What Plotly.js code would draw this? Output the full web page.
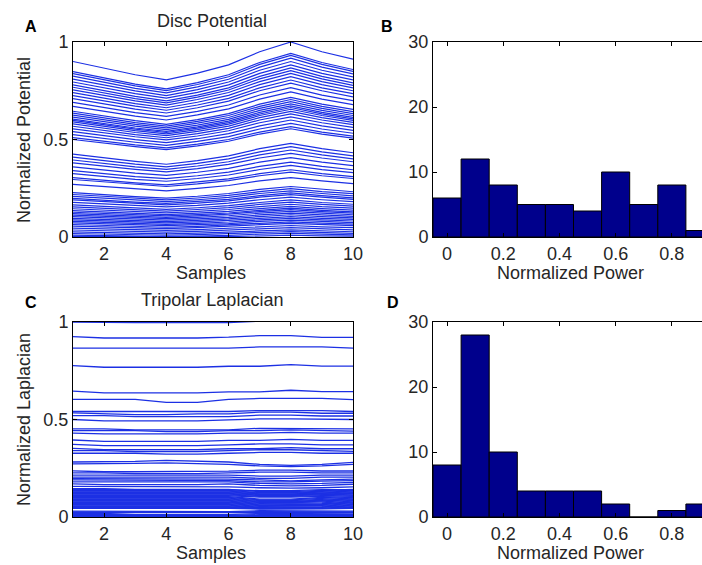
<!DOCTYPE html>
<html>
<head>
<meta charset="utf-8">
<script src="https://cdn.plot.ly/plotly-3.0.1.min.js"></script>
<style>
html,body{margin:0;padding:0;overflow:hidden;background:#fff;}
#chart{width:730px;height:565px;}
</style>
</head>
<body>
<div id="chart"></div>
<script>
// ---------------- DATA ----------------
const samples = [1,2,3,4,5,6,7,8,9,10];

// Panel A: normalized disc potential, 64 channels x 10 samples
const discPotential = [
[0.900,0.866,0.832,0.806,0.840,0.883,0.950,1.000,0.950,0.912],
[0.848,0.816,0.784,0.760,0.792,0.832,0.895,0.942,0.895,0.859],
[0.838,0.806,0.775,0.751,0.782,0.822,0.885,0.931,0.885,0.849],
[0.825,0.794,0.762,0.739,0.770,0.809,0.871,0.917,0.871,0.836],
[0.810,0.779,0.749,0.725,0.756,0.795,0.855,0.900,0.855,0.821],
[0.795,0.765,0.735,0.712,0.742,0.780,0.839,0.883,0.839,0.806],
[0.780,0.750,0.721,0.698,0.728,0.765,0.824,0.867,0.824,0.790],
[0.768,0.739,0.710,0.688,0.717,0.754,0.811,0.853,0.811,0.778],
[0.755,0.726,0.698,0.676,0.705,0.741,0.797,0.839,0.797,0.765],
[0.740,0.712,0.684,0.663,0.691,0.726,0.781,0.822,0.781,0.750],
[0.725,0.698,0.671,0.650,0.677,0.711,0.765,0.805,0.765,0.735],
[0.710,0.683,0.656,0.636,0.663,0.697,0.750,0.789,0.750,0.719],
[0.690,0.664,0.638,0.619,0.644,0.677,0.728,0.766,0.728,0.699],
[0.670,0.645,0.620,0.600,0.626,0.657,0.707,0.744,0.707,0.679],
[0.645,0.621,0.597,0.578,0.602,0.633,0.681,0.716,0.681,0.654],
[0.635,0.611,0.587,0.569,0.593,0.623,0.670,0.705,0.670,0.643],
[0.625,0.602,0.578,0.560,0.584,0.613,0.660,0.694,0.660,0.633],
[0.615,0.592,0.569,0.551,0.574,0.603,0.649,0.683,0.649,0.623],
[0.605,0.582,0.559,0.542,0.565,0.594,0.639,0.672,0.639,0.613],
[0.598,0.576,0.553,0.536,0.558,0.587,0.631,0.664,0.631,0.606],
[0.590,0.568,0.546,0.529,0.551,0.579,0.623,0.655,0.623,0.598],
[0.580,0.558,0.536,0.520,0.542,0.569,0.612,0.644,0.612,0.588],
[0.568,0.547,0.525,0.509,0.530,0.557,0.600,0.631,0.600,0.576],
[0.555,0.534,0.514,0.498,0.518,0.545,0.586,0.616,0.586,0.562],
[0.540,0.520,0.499,0.484,0.504,0.530,0.570,0.600,0.570,0.547],
[0.525,0.505,0.486,0.470,0.490,0.515,0.554,0.583,0.554,0.532],
[0.510,0.491,0.472,0.457,0.476,0.500,0.538,0.566,0.538,0.517],
[0.500,0.481,0.463,0.448,0.467,0.491,0.528,0.555,0.528,0.507],
[0.425,0.406,0.388,0.373,0.392,0.416,0.453,0.480,0.453,0.432],
[0.410,0.392,0.374,0.360,0.378,0.401,0.437,0.463,0.437,0.416],
[0.395,0.378,0.360,0.347,0.364,0.386,0.421,0.446,0.421,0.401],
[0.380,0.363,0.347,0.334,0.351,0.372,0.405,0.429,0.405,0.386],
[0.360,0.344,0.328,0.316,0.332,0.352,0.384,0.407,0.384,0.366],
[0.340,0.325,0.310,0.299,0.314,0.333,0.362,0.384,0.362,0.345],
[0.325,0.311,0.296,0.286,0.300,0.318,0.346,0.367,0.346,0.330],
[0.305,0.291,0.278,0.267,0.281,0.298,0.325,0.345,0.325,0.310],
[0.295,0.282,0.269,0.259,0.272,0.289,0.314,0.333,0.314,0.300],
[0.270,0.258,0.246,0.237,0.249,0.264,0.288,0.305,0.288,0.274],
[0.228,0.217,0.207,0.199,0.209,0.223,0.244,0.259,0.244,0.232],
[0.218,0.208,0.198,0.190,0.200,0.213,0.233,0.248,0.233,0.222],
[0.208,0.198,0.188,0.181,0.191,0.203,0.223,0.237,0.223,0.211],
[0.198,0.188,0.179,0.172,0.181,0.193,0.212,0.226,0.212,0.201],
[0.190,0.181,0.172,0.165,0.174,0.185,0.204,0.217,0.204,0.193],
[0.178,0.169,0.160,0.154,0.162,0.174,0.191,0.204,0.191,0.181],
[0.165,0.157,0.148,0.142,0.150,0.161,0.177,0.190,0.177,0.168],
[0.155,0.147,0.139,0.133,0.141,0.151,0.167,0.179,0.167,0.158],
[0.145,0.137,0.130,0.124,0.131,0.141,0.156,0.168,0.156,0.148],
[0.135,0.128,0.120,0.115,0.122,0.131,0.146,0.157,0.146,0.138],
[0.127,0.120,0.113,0.108,0.115,0.123,0.137,0.148,0.137,0.129],
[0.120,0.113,0.106,0.101,0.108,0.117,0.130,0.140,0.130,0.122],
[0.112,0.106,0.099,0.094,0.101,0.109,0.122,0.131,0.122,0.114],
[0.104,0.098,0.091,0.087,0.093,0.101,0.113,0.122,0.113,0.106],
[0.096,0.090,0.084,0.079,0.085,0.093,0.105,0.114,0.105,0.098],
[0.088,0.082,0.077,0.072,0.078,0.085,0.096,0.105,0.096,0.090],
[0.080,0.075,0.069,0.065,0.070,0.077,0.088,0.096,0.088,0.082],
[0.072,0.067,0.062,0.058,0.063,0.069,0.080,0.087,0.080,0.074],
[0.064,0.059,0.054,0.050,0.055,0.062,0.071,0.078,0.071,0.066],
[0.056,0.051,0.047,0.043,0.048,0.054,0.063,0.070,0.063,0.058],
[0.046,0.042,0.037,0.034,0.038,0.044,0.052,0.059,0.052,0.048],
[0.036,0.032,0.028,0.025,0.029,0.034,0.042,0.048,0.042,0.037],
[0.026,0.022,0.019,0.016,0.020,0.024,0.031,0.037,0.031,0.027],
[0.018,0.015,0.011,0.009,0.012,0.016,0.023,0.028,0.023,0.019],
[0.010,0.007,0.004,0.002,0.005,0.008,0.015,0.019,0.015,0.011],
[0.003,0.002,0.001,0.000,0.001,0.002,0.006,0.009,0.006,0.004]
];

// Panel C: normalized tripolar Laplacian, 64 channels x 10 samples
const tripolarLaplacian = [
[1.000,0.997,0.997,0.997,0.997,0.997,1.004,1.004,1.004,1.004],
[0.925,0.918,0.918,0.918,0.918,0.922,0.930,0.930,0.921,0.921],
[0.866,0.866,0.866,0.866,0.866,0.866,0.872,0.872,0.872,0.866],
[0.776,0.768,0.768,0.768,0.768,0.773,0.773,0.781,0.774,0.774],
[0.646,0.637,0.637,0.637,0.637,0.642,0.642,0.650,0.643,0.643],
[0.603,0.603,0.603,0.588,0.588,0.603,0.608,0.608,0.608,0.602],
[0.541,0.541,0.541,0.541,0.541,0.541,0.546,0.546,0.546,0.541],
[0.534,0.529,0.525,0.525,0.529,0.529,0.538,0.538,0.532,0.532],
[0.520,0.520,0.515,0.515,0.515,0.515,0.522,0.522,0.518,0.518],
[0.500,0.493,0.493,0.493,0.493,0.498,0.503,0.503,0.500,0.500],
[0.452,0.452,0.447,0.447,0.447,0.447,0.455,0.455,0.452,0.452],
[0.443,0.443,0.443,0.438,0.438,0.443,0.443,0.447,0.443,0.440],
[0.430,0.426,0.426,0.426,0.426,0.430,0.430,0.434,0.430,0.430],
[0.395,0.388,0.388,0.388,0.388,0.393,0.393,0.398,0.393,0.393],
[0.372,0.366,0.366,0.366,0.366,0.370,0.375,0.375,0.370,0.370],
[0.352,0.346,0.346,0.346,0.346,0.350,0.350,0.356,0.350,0.350],
[0.340,0.340,0.336,0.336,0.336,0.340,0.345,0.345,0.340,0.337],
[0.327,0.327,0.327,0.322,0.322,0.327,0.331,0.331,0.327,0.327],
[0.282,0.282,0.285,0.290,0.285,0.282,0.270,0.265,0.270,0.280],
[0.272,0.272,0.275,0.278,0.275,0.270,0.262,0.258,0.262,0.270],
[0.237,0.232,0.232,0.232,0.235,0.235,0.240,0.240,0.236,0.236],
[0.226,0.226,0.222,0.222,0.222,0.226,0.230,0.230,0.226,0.226],
[0.215,0.215,0.215,0.212,0.212,0.215,0.210,0.210,0.215,0.215],
[0.205,0.205,0.205,0.205,0.205,0.205,0.198,0.198,0.205,0.205],
[0.197,0.197,0.194,0.194,0.194,0.194,0.190,0.185,0.190,0.194],
[0.190,0.190,0.190,0.187,0.187,0.187,0.180,0.180,0.184,0.187],
[0.180,0.180,0.180,0.180,0.180,0.180,0.172,0.170,0.172,0.178],
[0.170,0.166,0.166,0.166,0.166,0.170,0.162,0.160,0.162,0.168],
[0.157,0.157,0.157,0.155,0.155,0.155,0.150,0.148,0.150,0.155],
[0.145,0.145,0.140,0.140,0.140,0.140,0.135,0.135,0.140,0.140],
[0.141,0.141,0.141,0.141,0.141,0.141,0.130,0.130,0.136,0.141],
[0.137,0.137,0.137,0.137,0.137,0.137,0.125,0.125,0.132,0.137],
[0.133,0.133,0.133,0.133,0.133,0.133,0.122,0.122,0.128,0.133],
[0.129,0.129,0.129,0.129,0.129,0.129,0.119,0.119,0.124,0.129],
[0.125,0.125,0.125,0.125,0.125,0.125,0.116,0.116,0.121,0.125],
[0.121,0.121,0.121,0.121,0.121,0.121,0.113,0.113,0.118,0.121],
[0.117,0.117,0.117,0.117,0.117,0.117,0.110,0.110,0.114,0.117],
[0.113,0.113,0.113,0.113,0.113,0.113,0.106,0.106,0.110,0.113],
[0.109,0.109,0.109,0.109,0.109,0.109,0.102,0.102,0.106,0.109],
[0.105,0.105,0.105,0.105,0.105,0.105,0.092,0.092,0.100,0.105],
[0.101,0.101,0.101,0.101,0.101,0.101,0.088,0.088,0.096,0.101],
[0.097,0.097,0.097,0.097,0.097,0.097,0.084,0.084,0.090,0.097],
[0.093,0.093,0.093,0.093,0.093,0.093,0.080,0.080,0.086,0.093],
[0.089,0.089,0.089,0.089,0.089,0.089,0.077,0.077,0.082,0.089],
[0.085,0.085,0.085,0.085,0.085,0.085,0.074,0.074,0.078,0.085],
[0.081,0.081,0.081,0.081,0.081,0.081,0.070,0.070,0.072,0.081],
[0.077,0.077,0.077,0.077,0.077,0.077,0.066,0.066,0.068,0.077],
[0.073,0.073,0.073,0.073,0.073,0.073,0.062,0.062,0.064,0.073],
[0.069,0.069,0.069,0.069,0.069,0.069,0.058,0.058,0.060,0.069],
[0.065,0.065,0.065,0.065,0.065,0.065,0.054,0.054,0.056,0.065],
[0.061,0.061,0.061,0.061,0.061,0.061,0.050,0.050,0.052,0.061],
[0.057,0.057,0.057,0.057,0.057,0.057,0.047,0.047,0.049,0.057],
[0.053,0.053,0.053,0.053,0.053,0.053,0.045,0.045,0.046,0.053],
[0.049,0.049,0.049,0.049,0.049,0.049,0.043,0.043,0.044,0.049],
[0.045,0.045,0.045,0.045,0.045,0.045,0.041,0.041,0.042,0.045],
[0.030,0.030,0.028,0.028,0.028,0.028,0.032,0.032,0.030,0.030],
[0.026,0.026,0.024,0.024,0.024,0.024,0.028,0.028,0.026,0.026],
[0.022,0.022,0.022,0.022,0.022,0.022,0.024,0.024,0.022,0.022],
[0.018,0.018,0.012,0.012,0.012,0.012,0.018,0.018,0.016,0.016],
[0.012,0.012,0.012,0.008,0.008,0.008,0.012,0.012,0.012,0.012],
[0.008,0.008,0.008,0.004,0.004,0.004,0.008,0.008,0.008,0.008],
[0.004,0.004,0.004,0.002,0.002,0.004,0.004,0.004,0.004,0.004],
[0.002,0.002,0.002,0.000,0.000,0.002,0.002,0.002,0.002,0.002],
[0.000,0.000,0.000,0.000,0.000,0.000,0.000,0.000,0.000,0.000]
];

// Histograms (panels B and D)
const powerBins = [0,0.1,0.2,0.3,0.4,0.5,0.6,0.7,0.8,0.9];
const discPowerCounts = [6,12,8,5,5,4,10,5,8,1];
const laplacianPowerCounts = [8,28,10,4,4,4,2,0,1,2];

// Tick labels
const sampleTicks = [2,4,6,8,10];
const normTicks = [0,0.5,1];
const normTickText = ['0','0.5','1'];
const powerTicks = [0,0.2,0.4,0.6,0.8,1];
const powerTickText = ['0','0.2','0.4','0.6','0.8','1'];
const countTicks = [0,10,20,30];

// ---------------- LAYOUT HELPERS ----------------
const W = 730, H = 565;
const fx = p => p / W;
const fy = p => 1 - p / H;
const lineColor = 'rgb(28,48,228)';
const FONT = 'Liberation Sans, Arial, sans-serif';
const txtColor = '#262626';

const traces = [];
discPotential.forEach(row => traces.push({
  x: samples, y: row, type: 'scatter', mode: 'lines',
  line: {color: lineColor, width: 1.2}, xaxis: 'x', yaxis: 'y', hoverinfo: 'skip'
}));
tripolarLaplacian.forEach(row => traces.push({
  x: samples, y: row, type: 'scatter', mode: 'lines',
  line: {color: lineColor, width: 1.3}, xaxis: 'x3', yaxis: 'y3', hoverinfo: 'skip'
}));
traces.push({
  x: powerBins, y: discPowerCounts, type: 'bar', width: 0.1,
  marker: {color: '#00008c', line: {color: '#000', width: 1}},
  xaxis: 'x2', yaxis: 'y2', hoverinfo: 'skip'
});
traces.push({
  x: powerBins, y: laplacianPowerCounts, type: 'bar', width: 0.1,
  marker: {color: '#00008c', line: {color: '#000', width: 1}},
  xaxis: 'x4', yaxis: 'y4', hoverinfo: 'skip'
});

const baseAxis = {
  showline: true, linecolor: '#000', linewidth: 1, mirror: 'ticks',
  ticks: 'inside', ticklen: 4, tickcolor: '#000', showgrid: false, zeroline: false,
  tickfont: {family: FONT, size: 18, color: txtColor}, fixedrange: true
};
const leftX = [fx(73), fx(353)];
const rightX = [fx(433), fx(714)];
const topY = [fy(237), fy(42)];
const botY = [fy(517), fy(322)];

const layout = {
  width: W, height: H,
  margin: {l: 0, r: 0, t: 0, b: 0},
  paper_bgcolor: '#fff', plot_bgcolor: '#fff',
  showlegend: false, bargap: 0,
  font: {family: FONT, color: txtColor},
  xaxis:  Object.assign({}, baseAxis, {domain: leftX, range: [1,10], tickvals: sampleTicks, anchor: 'y'}),
  yaxis:  Object.assign({}, baseAxis, {domain: topY, range: [0,1], tickvals: normTicks, ticktext: normTickText, anchor: 'x'}),
  xaxis2: Object.assign({}, baseAxis, {domain: rightX, range: [-0.05,0.95], tickvals: powerTicks, ticktext: powerTickText, anchor: 'y2'}),
  yaxis2: Object.assign({}, baseAxis, {domain: topY, range: [0,30], tickvals: countTicks, anchor: 'x2'}),
  xaxis3: Object.assign({}, baseAxis, {domain: leftX, range: [1,10], tickvals: sampleTicks, anchor: 'y3'}),
  yaxis3: Object.assign({}, baseAxis, {domain: botY, range: [0,1], tickvals: normTicks, ticktext: normTickText, anchor: 'x3'}),
  xaxis4: Object.assign({}, baseAxis, {domain: rightX, range: [-0.05,0.95], tickvals: powerTicks, ticktext: powerTickText, anchor: 'y4'}),
  yaxis4: Object.assign({}, baseAxis, {domain: botY, range: [0,30], tickvals: countTicks, anchor: 'x4'}),
  annotations: []
};

function ann(text, x, y, opts) {
  layout.annotations.push(Object.assign({
    text: text, xref: 'paper', yref: 'paper', x: fx(x), y: fy(y),
    xanchor: 'center', yanchor: 'middle', showarrow: false,
    font: {family: FONT, size: 18, color: txtColor}
  }, opts || {}));
}
// subplot titles
ann('Disc Potential', 212, 21);
ann('Tripolar Laplacian', 212, 300);
// axis titles
ann('Samples', 211, 273);
ann('Samples', 211, 553);
ann('Normalized Power', 570, 273);
ann('Normalized Power', 570, 553);
ann('Normalized Potential', 24, 140, {textangle: -90});
ann('Normalized Laplacian', 24, 420, {textangle: -90});
// panel letters
const bold = {family: FONT, size: 16, color: '#000'};
ann('<b>A</b>', 31, 26, {font: bold});
ann('<b>B</b>', 387, 26, {font: bold});
ann('<b>C</b>', 31, 302, {font: bold});
ann('<b>D</b>', 393, 302, {font: bold});

Plotly.newPlot('chart', traces, layout, {staticPlot: true, displayModeBar: false});
</script>
</body>
</html>
